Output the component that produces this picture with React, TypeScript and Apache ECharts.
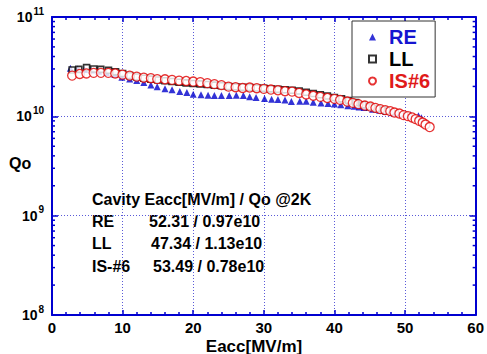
import React, { useEffect, useRef } from 'react';
import * as echarts from 'echarts';

const FONT = '"Liberation Sans", Arial, Helvetica, sans-serif';

// Eacc [MV/m] and Qo [x1e10]
const reE = [2.6, 3.6, 4.6, 5.6, 6.6, 7.7, 8.9, 9.9, 11.0, 12.0, 13.0, 14.0, 14.9, 16.0, 17.0, 18.1, 19.1, 20.0, 21.1, 22.1, 23.0, 24.0, 25.1, 26.1, 27.1, 28.0, 28.9, 30.1, 31.1, 32.0, 33.0, 33.9, 35.1, 36.0, 37.0, 38.1, 39.1, 40.0, 40.9, 41.9, 42.8, 43.5, 44.2, 45.4, 46.4, 47.3, 48.2, 49.0, 49.8, 50.8, 51.9, 52.31];
const reQ = [3.05, 3.0, 2.96, 2.92, 2.85, 2.76, 2.63, 2.48, 2.38, 2.29, 2.19, 2.07, 1.99, 1.89, 1.85, 1.78, 1.735, 1.67, 1.645, 1.63, 1.62, 1.62, 1.62, 1.63, 1.62, 1.57, 1.55, 1.51, 1.49, 1.48, 1.46, 1.41, 1.42, 1.42, 1.39, 1.36, 1.35, 1.33, 1.31, 1.28, 1.265, 1.245, 1.226, 1.18, 1.15, 1.12, 1.10, 1.07, 1.05, 1.035, 1.012, 0.97];

const llE = [2.85, 3.8, 4.9, 5.9, 6.9, 8.0, 9.0, 10.0, 11, 12, 13, 14, 15, 16, 17, 18, 19, 20, 21, 22, 23, 24, 25, 26, 27, 28, 29, 30, 31, 32, 33, 34, 35, 36, 37, 38, 39, 40, 41, 42, 43, 44, 45, 46, 47, 47.34];
const llQ = [2.93, 2.97, 3.09, 3.0, 2.97, 2.9, 2.8, 2.7, 2.57, 2.49, 2.42, 2.37, 2.32, 2.28, 2.24, 2.2, 2.17, 2.14, 2.12, 2.09, 2.06, 2.03, 2.0, 1.98, 1.96, 1.95, 1.93, 1.91, 1.89, 1.87, 1.85, 1.83, 1.80, 1.75, 1.70, 1.65, 1.60, 1.55, 1.50, 1.44, 1.38, 1.31, 1.25, 1.20, 1.16, 1.13];

const isE = [2.85, 3.93, 4.88, 5.9, 6.93, 7.97, 8.95, 9.98, 11.0, 12.0, 13.0, 14.0, 14.9, 16, 17, 18, 19, 20, 21, 22, 23, 24, 25, 26, 27, 28, 29, 30, 31, 32, 33, 34, 35, 36, 37, 38, 39, 40, 40.8, 41.8, 42.6, 43.4, 44.3, 45.1, 45.8, 46.5, 47.2, 47.9, 48.5, 49.2, 49.8, 50.4, 51, 51.5, 52, 52.5, 52.9, 53.49];
const isQ = [2.57, 2.67, 2.70, 2.74, 2.74, 2.74, 2.70, 2.63, 2.57, 2.51, 2.45, 2.42, 2.37, 2.36, 2.33, 2.29, 2.27, 2.24, 2.21, 2.16, 2.11, 2.06, 1.99, 1.965, 1.93, 1.95, 1.92, 1.89, 1.86, 1.83, 1.79, 1.775, 1.72, 1.66, 1.61, 1.57, 1.53, 1.50, 1.465, 1.408, 1.367, 1.326, 1.284, 1.254, 1.217, 1.181, 1.154, 1.128, 1.092, 1.067, 1.028, 1.005, 0.973, 0.937, 0.901, 0.866, 0.827, 0.78];

const yMinorTicks = [2e8, 3e8, 4e8, 5e8, 6e8, 7e8, 8e8, 9e8, 2e9, 3e9, 4e9, 5e9, 6e9, 7e9, 8e9, 9e9, 2e10, 3e10, 4e10, 5e10, 6e10, 7e10, 8e10, 9e10];

const noteTitle = 'Cavity Eacc[MV/m] / Qo @2K';
const noteLabels = ['RE', 'LL', 'IS-#6'];
const noteValues = ['52.31 / 0.97e10', '47.34 / 1.13e10', '53.49 / 0.78e10'];

const AXIS_BLUE = '#0000d0';
const GRID_BLUE = '#5a5ad8';

function pairs(e: number[], q: number[]) {
  return e.map((v, i) => [v, q[i] * 1e10]);
}

export default function App() {
  const ref = useRef<HTMLDivElement>(null);
  useEffect(() => {
    const chart = echarts.init(ref.current!, null, { renderer: 'svg' });
    const xBase = {
      type: 'value',
      min: 0,
      max: 60,
      interval: 10,
      axisLine: { show: true, onZero: false, lineStyle: { color: AXIS_BLUE, width: 2 } },
      axisTick: { show: true, inside: true, length: 5, lineStyle: { color: AXIS_BLUE, width: 1.5 } },
      minorTick: { show: true, splitNumber: 5, length: 3, lineStyle: { color: AXIS_BLUE, width: 1.5 } },
    };
    const yBase = {
      type: 'log',
      logBase: 10,
      min: 1e8,
      max: 1e11,
      axisLine: { show: true, onZero: false, lineStyle: { color: AXIS_BLUE, width: 2 } },
      axisTick: { show: true, inside: true, length: 6, lineStyle: { color: AXIS_BLUE, width: 1.5 } },
    };
    const noteGraphics: any[] = [
      { type: 'text', x: 92, y: 199, style: { text: noteTitle, font: `bold 16px ${FONT}`, fill: '#000', verticalAlign: 'middle' } },
    ];
    const rowY = [221, 243, 266];
    const valX = [149, 151, 153];
    noteLabels.forEach((l, i) => {
      noteGraphics.push({ type: 'text', x: 92, y: rowY[i], style: { text: l, font: `bold 16px ${FONT}`, fill: '#000', verticalAlign: 'middle' } });
      noteGraphics.push({ type: 'text', x: valX[i], y: rowY[i], style: { text: noteValues[i], font: `bold 16px ${FONT}`, fill: '#000', verticalAlign: 'middle' } });
    });
    const option: any = {
      animation: false,
      backgroundColor: '#fff',
      textStyle: { fontFamily: FONT },
      grid: { left: 52, right: 8, top: 17, bottom: 39, containLabel: false },
      xAxis: [
        {
          ...xBase,
          position: 'bottom',
          axisLabel: { show: true, margin: 5, color: '#000', fontSize: 15, fontWeight: 'bold', fontFamily: FONT },
          splitLine: { show: true, lineStyle: { color: GRID_BLUE, width: 1, type: [1, 2] } },
        },
        {
          ...xBase,
          position: 'top',
          axisLabel: { show: false },
          splitLine: { show: false },
        },
      ],
      yAxis: [
        {
          ...yBase,
          position: 'left',
          axisLabel: {
            show: true,
            margin: 8,
            formatter: (v: number) => '{b|10}{s|' + Math.round(Math.log10(v)) + '}',
            rich: {
              b: { fontSize: 14, fontWeight: 'bold', color: '#000', fontFamily: FONT, lineHeight: 14, verticalAlign: 'bottom' },
              s: { fontSize: 10, fontWeight: 'bold', color: '#000', fontFamily: FONT, lineHeight: 10, verticalAlign: 'bottom', padding: [0, 0, 8, 1] },
            },
          },
          splitLine: { show: true, lineStyle: { color: GRID_BLUE, width: 1, type: [1, 2] } },
        },
        {
          ...yBase,
          position: 'right',
          axisLabel: { show: false },
          splitLine: { show: false },
        },
      ],
      legend: {
        orient: 'vertical',
        left: 352,
        top: 21,
        padding: [6, 5, 6, 16],
        itemWidth: 7,
        itemHeight: 7,
        itemGap: 2,
        backgroundColor: '#fff',
        borderColor: '#333',
        borderWidth: 1,
        textStyle: { fontSize: 20, fontWeight: 'bold', fontFamily: FONT, lineHeight: 20, padding: [0, 0, 0, 8] },
        data: [
          { name: 'RE', textStyle: { color: '#1515d0' } },
          { name: 'LL', textStyle: { color: '#000' } },
          { name: 'IS#6', textStyle: { color: '#e01a1a' } },
        ],
      },
      graphic: [
        ...noteGraphics,
        { type: 'text', x: 9, y: 163, style: { text: 'Qo', font: `bold 16px ${FONT}`, fill: '#000', verticalAlign: 'middle' } },
        { type: 'text', x: 254, y: 346, style: { text: 'Eacc[MV/m]', font: `bold 17px ${FONT}`, fill: '#000', align: 'center', verticalAlign: 'middle' } },
      ],
      series: [
        {
          type: 'custom',
          silent: true,
          xAxisIndex: 0,
          yAxisIndex: 0,
          data: yMinorTicks.map((v) => [0, v]),
          renderItem: (params: any, api: any) => {
            const v = api.value(1);
            const p = api.coord([0, v]);
            const q = api.coord([60, v]);
            const st = { stroke: AXIS_BLUE, lineWidth: 1.5 };
            return {
              type: 'group',
              children: [
                { type: 'line', shape: { x1: p[0], y1: p[1], x2: p[0] + 3, y2: p[1] }, style: st },
                { type: 'line', shape: { x1: q[0], y1: q[1], x2: q[0] - 3, y2: q[1] }, style: st },
              ],
            };
          },
        },
        {
          name: 'RE',
          type: 'scatter',
          symbol: 'triangle',
          symbolSize: 7,
          itemStyle: { color: '#0000cc' },
          data: pairs(reE, reQ),
        },
        {
          name: 'LL',
          type: 'scatter',
          symbol: 'rect',
          symbolSize: 6,
          itemStyle: { color: '#ffffff', borderColor: '#000', borderWidth: 1.6 },
          data: pairs(llE, llQ),
        },
        {
          name: 'IS#6',
          type: 'scatter',
          symbol: 'circle',
          symbolSize: 9,
          itemStyle: { color: '#ffffff', borderColor: '#e00000', borderWidth: 1.3 },
          data: pairs(isE, isQ),
        },
      ],
    };
    chart.setOption(option);
    return () => chart.dispose();
  }, []);
  return <div ref={ref} style={{ position: 'fixed', left: 0, top: 0, width: 487, height: 354 }} />;
}
